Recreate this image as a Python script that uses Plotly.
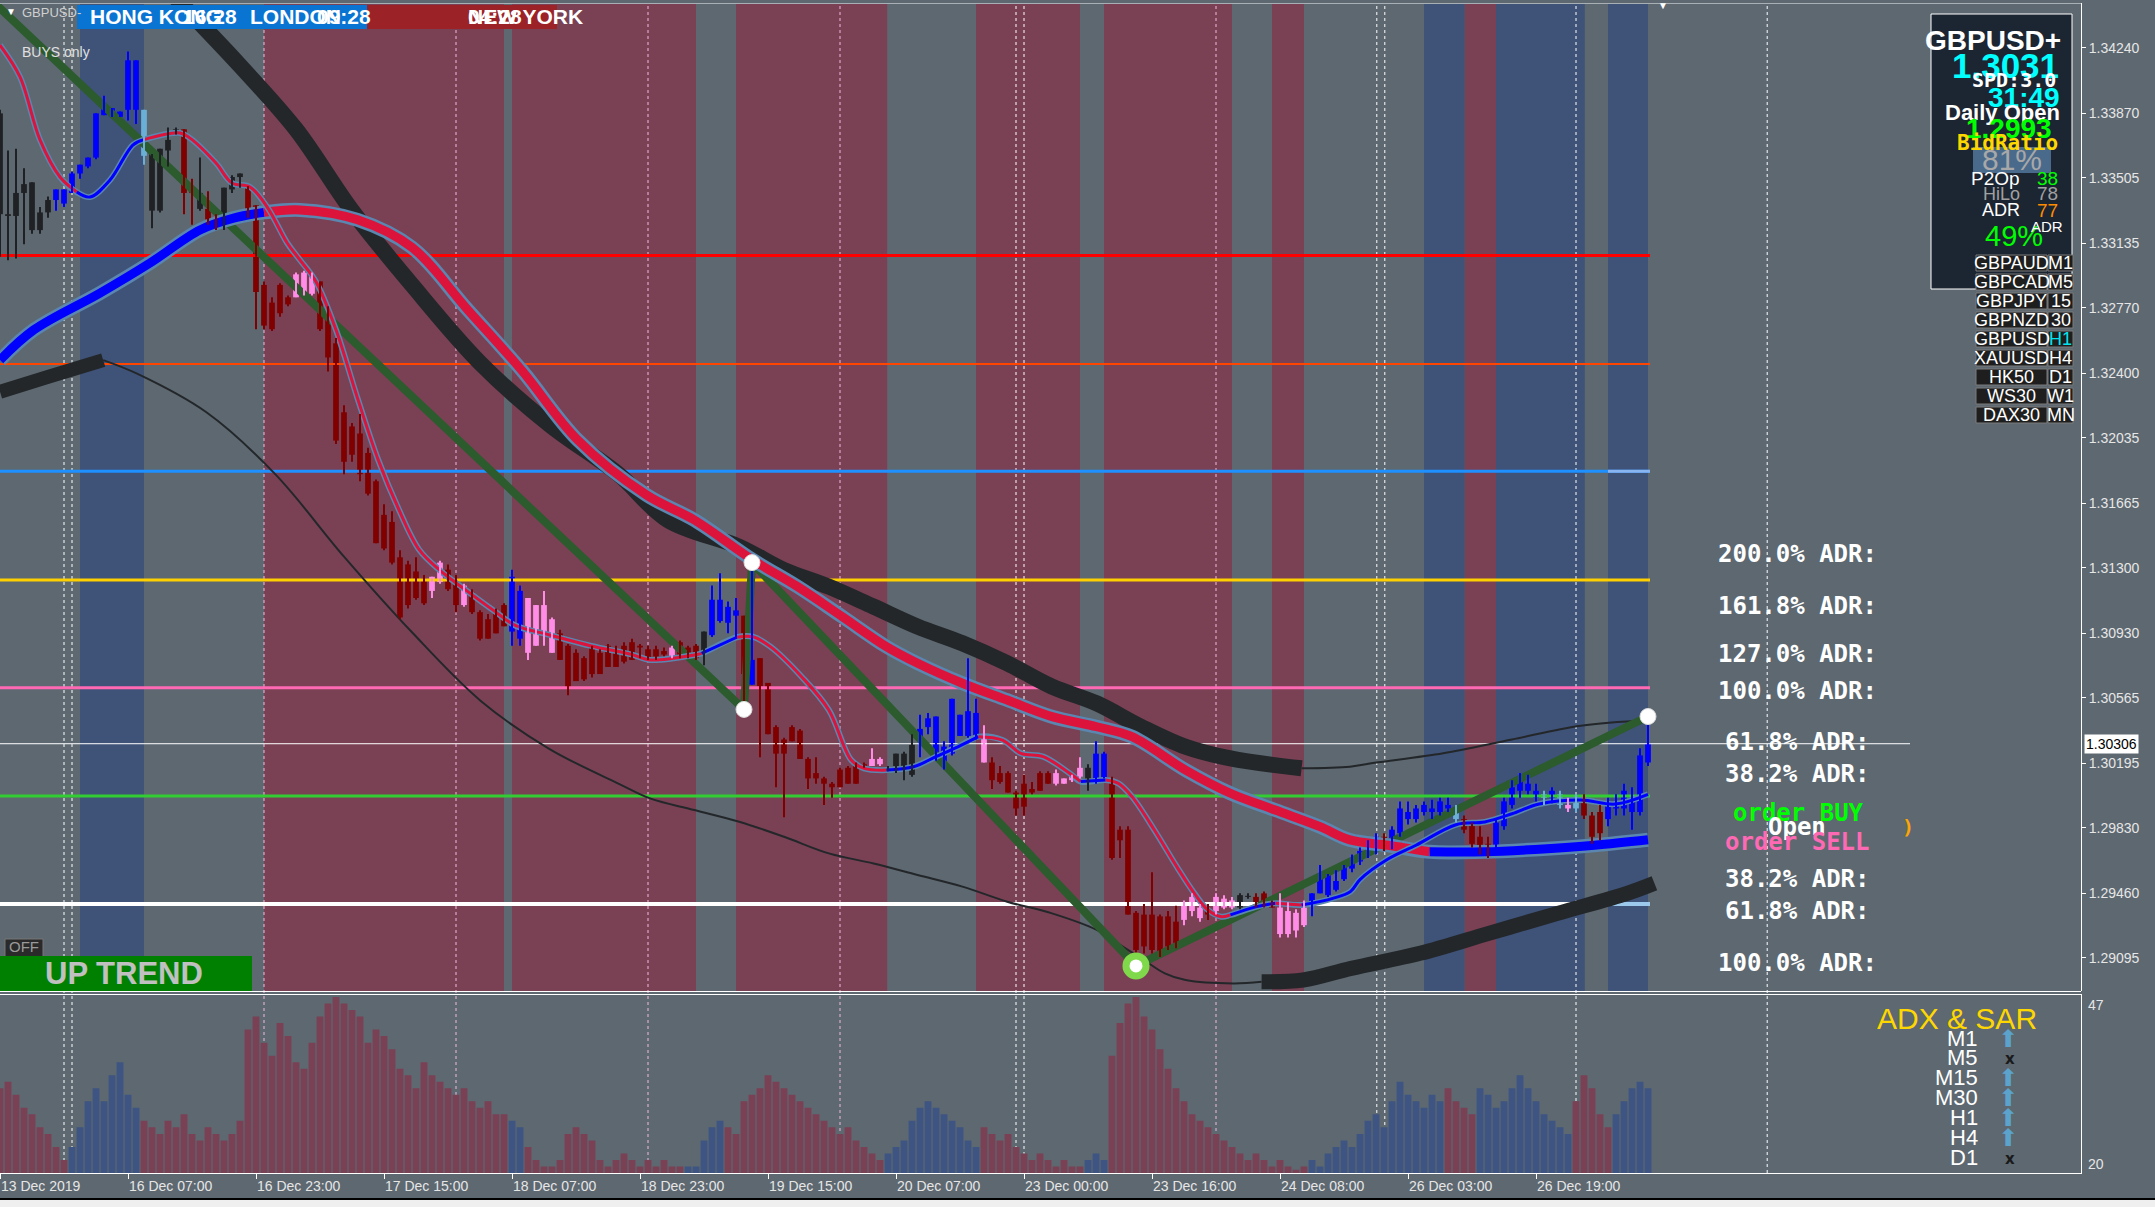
import plotly.graph_objects as go

# ---------------- data ----------------
BASE = 1.29000
PIP = 0.0001

time_ticks = [0, 16, 32, 48, 64, 80, 96, 112, 128, 144, 160, 176, 192]
time_labels = ["13 Dec 2019", "16 Dec 07:00", "16 Dec 23:00", "17 Dec 15:00", "18 Dec 07:00",
               "18 Dec 23:00", "19 Dec 15:00", "20 Dec 07:00", "23 Dec 00:00", "23 Dec 16:00",
               "24 Dec 08:00", "26 Dec 03:00", "26 Dec 19:00"]

price_ticks = [1.34240, 1.33870, 1.33505, 1.33135, 1.32770, 1.32400, 1.32035, 1.31665,
               1.31300, 1.30930, 1.30565, 1.30195, 1.29830, 1.29460, 1.29095]
current_price = 1.30306

# candle colour per bar: k=black, b=blue, r=dark red, p=pink, L=light blue
candle_color = ("kkkkkkk" + "bbbbbbbbbbb" + "L" + "kkkk" + "rr" + "k" + "rr" + "kkk" + "rrrrrr" + "ppp"
                + "rrrrrrrrrrrrrr" + "pp" + "rr" + "p" + "rrrrr" + "bb" + "pppp" + "rrrrrrrrrrrrrr" + "p"
                + "rrr" + "k" + "bbbb" + "r" + "b" + "rrrrrrrrrrrrrr" + "pp" + "kkkk" + "bbbbbbbb" + "p"
                + "rrrrrrrr" + "pppp" + "k" + "bb" + "rrrrrrrrr" + "ppp" + "r" + "ppp" + "kk" + "rrr"
                + "pppp" + "bbbbbbbbb" + "r" + "bbbbbbbb" + "L" + "rrrr" + "bbbbbb" + "L" + "b" + "L"
                + "p" + "L" + "rrr" + "bbbbbb")

# prices in pips above 1.29000
open_p = [487, 430, 429, 442, 448, 421, 431, 438, 436, 442,
          453, 457, 462, 486, 485, 485, 489, 489, 489, 464,
          432, 466, 476, 478, 443, 442, 433, 428, 430, 444,
          451, 446, 435, 390, 380, 374, 383, 383, 386, 396,
          392, 376, 357, 318, 294, 306, 295, 279, 260, 256,
          236, 209, 228, 224, 217, 222, 229, 224, 209, 216,
          205, 201, 193, 209, 194, 190, 213, 186, 193, 201,
          193, 186, 182, 179, 170, 182, 186, 184, 186, 188,
          185, 184, 184, 183, 180, 188, 185, 186, 183, 192,
          200, 208, 203, 203, 164, 179, 165, 140, 133, 140,
          138, 122, 114, 111, 108, 116, 117, 119, 119, 118,
          122, 117, 118, 125, 113, 134, 140, 121, 120, 125,
          135, 135, 134, 134, 120, 114, 114, 103, 108, 105,
          114, 114, 108, 108, 110, 112, 117, 110, 111, 109,
          82, 82, 35, 34, 34, 33, 33, 30, 31, 36,
          38, 36, 36, 38, 38, 38, 44, 44, 46, 41,
          38, 36, 35, 28, 40, 46, 45, 48, 54, 60,
          64, 68, 70, 78, 72, 80, 92, 88, 92, 94,
          92, 96, 92, 88, 84, 78, 74, 72, 84, 96,
          104, 108, 104, 100, 100, 102, 96, 94, 100, 90,
          80, 88, 94, 94, 100, 92, 120]
high_p = [489, 466, 467, 456, 448, 434, 440, 444, 444, 454,
          458, 462, 487, 497, 490, 488, 522, 517, 489, 464,
          467, 479, 479, 478, 450, 462, 443, 430, 445, 452,
          453, 446, 435, 392, 383, 391, 384, 397, 398, 397,
          392, 378, 360, 322, 312, 317, 298, 280, 266, 262,
          240, 234, 236, 226, 225, 234, 232, 226, 221, 218,
          206, 204, 207, 210, 229, 220, 213, 209, 217, 202,
          195, 187, 184, 180, 186, 184, 187, 186, 188, 190,
          187, 186, 186, 185, 186, 189, 186, 187, 194, 220,
          227, 211, 213, 203, 233, 179, 165, 141, 134, 141,
          139, 123, 123, 112, 109, 117, 118, 120, 120, 128,
          123, 118, 125, 126, 136, 147, 148, 146, 132, 156,
          147, 179, 156, 141, 123, 118, 115, 104, 113, 109,
          115, 115, 116, 111, 113, 123, 119, 132, 126, 112,
          84, 84, 36, 40, 58, 34, 36, 39, 42, 46,
          40, 40, 46, 45, 44, 46, 46, 46, 47, 42,
          46, 41, 37, 42, 46, 62, 57, 59, 62, 68,
          72, 76, 80, 80, 84, 98, 98, 96, 98, 99,
          100, 100, 96, 90, 86, 84, 78, 88, 100, 110,
          114, 113, 108, 104, 106, 104, 100, 102, 102, 92,
          96, 100, 102, 108, 106, 128, 146]
low_p = [406, 404, 405, 413, 419, 419, 428, 432, 434, 442,
         450, 456, 461, 486, 485, 485, 483, 481, 458, 422,
         431, 457, 475, 430, 424, 432, 424, 421, 421, 442,
         445, 428, 365, 365, 364, 372, 378, 383, 384, 384,
         364, 341, 300, 283, 290, 279, 271, 244, 240, 232,
         201, 207, 212, 209, 213, 221, 217, 205, 208, 204,
         189, 190, 193, 197, 186, 186, 178, 186, 186, 182,
         178, 158, 166, 166, 168, 170, 174, 174, 176, 178,
         179, 178, 178, 180, 179, 179, 179, 178, 175, 191,
         199, 193, 190, 150, 164, 123, 136, 106, 89, 132,
         122, 105, 108, 96, 100, 106, 108, 108, 117, 118,
         118, 115, 114, 110, 112, 123, 136, 121, 116, 124,
         135, 134, 133, 120, 105, 108, 103, 90, 90, 102,
         104, 108, 107, 108, 109, 111, 104, 108, 111, 65,
         66, 34, 5, 12, 12, 10, 14, 15, 28, 33,
         30, 31, 34, 37, 37, 37, 43, 38, 38, 38,
         21, 21, 21, 27, 33, 46, 44, 47, 53, 58,
         62, 66, 68, 70, 71, 78, 85, 86, 90, 88,
         90, 92, 86, 80, 72, 68, 66, 70, 82, 94,
         100, 102, 98, 96, 97, 94, 92, 92, 88, 74,
         76, 84, 90, 90, 82, 90, 118]
close_p = [430, 429, 442, 447, 421, 431, 438, 444, 444, 453,
           458, 462, 487, 490, 490, 488, 517, 517, 463, 432,
           467, 472, 478, 442, 442, 433, 427, 426, 445, 451,
           453, 429, 386, 367, 365, 390, 379, 396, 397, 385,
           365, 349, 302, 290, 310, 283, 272, 244, 241, 233,
           202, 232, 213, 210, 225, 233, 218, 209, 220, 205,
           190, 190, 205, 197, 225, 217, 182, 209, 209, 182,
           178, 162, 166, 167, 186, 170, 174, 174, 177, 178,
           186, 178, 180, 181, 185, 180, 180, 179, 194, 212,
           212, 199, 206, 170, 178, 163, 136, 125, 125, 132,
           122, 111, 111, 108, 106, 106, 108, 108, 118, 122,
           119, 116, 125, 117, 130, 139, 145, 146, 129, 156,
           147, 149, 148, 120, 110, 109, 103, 94, 95, 103,
           104, 108, 114, 111, 113, 117, 111, 125, 125, 66,
           76, 34, 14, 16, 14, 13, 16, 18, 40, 44,
           32, 34, 44, 43, 42, 45, 44, 39, 39, 38,
           23, 23, 25, 38, 46, 57, 57, 53, 62, 66,
           70, 72, 78, 72, 82, 94, 88, 94, 96, 92,
           98, 94, 88, 82, 74, 70, 72, 86, 98, 106,
           110, 104, 100, 102, 104, 96, 94, 100, 90, 78,
           92, 98, 96, 104, 92, 124, 131]

# session background rectangles (bar units)
band_start = [10, 33, 64, 92, 122, 138, 159, 178, 183.1, 187, 201]
band_end = [18, 63, 87, 110.9, 135, 154, 163, 183.1, 187, 198.1, 206]
band_kind = "bmmmmmmbmbb"

# horizontal levels
level_price = [1.33066, 1.32453, 1.31846, 1.31232, 1.30623, 1.30011, 1.29400]
level_color = ["#FF0000", "#FF4500", "#1E90FF", "#FFD000", "#FF69B4", "#32CD32", "#FFFFFF"]
level_width = [3, 2, 3, 3, 3, 3, 4]

# day separators (bar units)
sep_j = [8, 9, 33, 57, 81, 105, 127, 128, 152, 172.1, 173.1, 197, 220.9]
sep_col = ["w", "w", "p", "p", "p", "p", "w", "w", "p", "w", "w", "w", "w"]

# zigzag
zz_j = [-2, 93, 94, 142, 206]
zz_p = [555, 150, 233, 5, 146]

# fast MA
fast_j = [0, 2.5, 5, 7.5, 9.6, 11.25, 13.75, 16.6, 17.9, 22.5, 23.75, 27, 29, 31.25, 33.4, 35.9, 37.5,
          39.5, 42, 44.7, 47.3, 49.8, 52.4, 55, 58.4, 61.9, 64.4, 68.7, 73.9, 79, 81.25, 86.8, 87.7,
          92.1, 94.1, 96.3, 100.2, 103.6, 106.4, 108, 110.8, 114.2, 117, 119.8, 122.3, 125.3, 127.6,
          130.4, 133.7, 135.1, 138.2, 139.8, 141.5, 144.3, 147.1, 149.3, 151, 152.7, 153.8, 157.1,
          159.4, 162.7, 166.6, 168.8, 170, 173.5, 177, 182, 185.6, 189, 192.4, 197.6, 201.9, 206]
fast_p = [525.6, 507.6, 472, 451, 442.5, 439.7, 449.3, 469.1, 472, 475.9, 473, 458.9, 447.6, 445.4, 434,
          413.7, 404.1, 391.8, 364.6, 325.8, 290.8, 263.6, 240.3, 228.6, 216.9, 205.3, 197.5, 192.1,
          185.9, 181, 178, 180.8, 181.7, 190.8, 191.1, 185.5, 168.5, 149.7, 121.4, 116.7, 115.7, 117.6,
          123.3, 129, 134.6, 132.7, 125.2, 123.3, 113.9, 109.2, 110.1, 108.2, 100.7, 81.8, 61.1, 46,
          36.6, 32.8, 33.8, 38.5, 40.4, 39.4, 43.2, 47, 53.8, 65.4, 73.2, 84.8, 86.4, 91, 96.5, 98.8,
          96.5, 102]
fast_col = ("rrrr" + "bbbb" + "r" * 24 + "b" + "r" * 7 + "bbbb" + "r" * 5 + "b" + "r" * 8 + "bb" + "r"
            + "b" * 13)

# slow MA
slow_j = [0, 4.2, 12.5, 18.75, 25, 29.2, 33, 37.5, 44.7, 51.5, 58.4, 65.3, 72.2, 80.8, 86.8, 94.1, 99.7,
          105.3, 110.8, 114.7, 120.3, 125.9, 131.5, 137.1, 141.5, 148.2, 153.8, 159.4, 165, 168.75, 173.5,
          178.7, 185.6, 192.4, 199.3, 206]
slow_p = [347.5, 364.5, 385.4, 402.4, 421.1, 427.8, 431, 432.4, 426.8, 411.2, 376.3, 341.3, 302.4, 271.3,
          257.1, 234.5, 219.4, 202.4, 185.5, 176.1, 164.8, 155.3, 145.9, 140.2, 134.6, 115.7, 102.6, 93.1,
          83.7, 76.2, 73.2, 69.5, 69.5, 71, 73.2, 76.3]
slow_col = "bbbbbb" + "r" * 25 + "b" * 5

# upper envelope (thick part, then thin part)
ub_j = [20, 22, 25, 30, 37, 44, 51.5, 60, 68.7, 77.3, 83.5, 92.4, 98, 103.6, 109.2, 114.7, 120.3, 125.9,
        131.5, 137.1, 142.6, 148.2, 153.8, 162.7]
ub_p = [562, 552, 538, 514, 478, 432, 390, 346, 311, 283, 257, 242, 228.8, 219.4, 208.1, 196.8, 187.4,
        176.1, 162.9, 153.4, 140.3, 128.9, 122.3, 116.7]
ubt_j = [162.7, 168.75, 171.8, 180.4, 189, 197.6, 206]
ubt_p = [116.7, 117.6, 119.8, 125.2, 133, 140.8, 143.9]

# lower envelope
lb1_j = [0, 6, 12.9]
lb1_p = [329.6, 338, 347.5]
lbt_j = [12.9, 17.2, 25.8, 34.4, 43, 51.5, 60.1, 68.7, 77.3, 81.25, 86.8, 92.4, 98, 103.6, 109.2, 114.7,
         120.3, 125.9, 131.5, 137.1, 138.7, 143, 145.6, 148.2, 154.2, 157.7]
lbt_p = [347.5, 339.7, 318, 283, 236.4, 193.6, 154.8, 127.6, 108.1, 99.7, 93.1, 86.5, 78, 68.6, 62.9, 56.4,
         49.8, 41.3, 34.7, 25.3, 20.6, 8.3, 0.8, -3, -4.9, -4]
lb2_j = [157.7, 162.9, 168.9, 177.5, 186.1, 194.7, 203.4, 206.8]
lb2_p = [-4, -3, 3.6, 12.1, 23.4, 34.7, 46, 51.7]

# lower indicator histogram
adx = [33, 34, 32, 30, 29, 27, 26, 24, 22, 24, 27, 31, 33, 31, 35, 37, 32, 30,
       28, 27, 26, 28, 27, 29, 26, 25, 27, 26, 25, 26, 28,
       42, 44, 40, 38, 43, 41, 37, 36, 40, 44, 46, 47, 46, 45, 44,
       40, 42, 41, 39, 36, 35, 33, 37, 35, 34, 33, 32, 33, 31, 30, 31, 29,
       29, 28, 27, 24, 22, 21, 21, 22,
       26, 27, 26, 25, 22, 21, 22, 23, 22, 21, 22, 21, 22, 21, 21,
       21, 21, 25, 27, 28, 27, 26,
       31, 32, 33, 35, 34, 33, 32, 31, 30, 29, 28, 27, 26, 27, 25, 24, 23, 22,
       23, 24, 25, 28, 30, 31, 30, 29, 28, 27, 25, 24,
       27, 26, 25, 26, 24, 23, 22, 23, 22, 21, 22, 21, 21,
       22, 23, 22,
       38, 43, 46, 47, 44, 42, 39, 36, 33, 31, 29, 28,
       27, 26, 25, 24, 23, 22, 23, 22, 21, 22, 21, 20.5, 21, 22, 21,
       23, 24, 25, 24, 26, 28, 29, 27, 31, 34, 32, 31, 30, 32, 31,
       33, 31, 30, 29, 33, 32, 30, 31, 33, 35,
       33, 31, 29, 28, 27, 26, 31, 35, 33, 29, 27, 29, 31, 33, 34, 33]
adx_col = ("m" * 9 + "b" * 9 + "m" * 46 + "b" * 2 + "m" * 20 + "b" * 5 + "m" * 20 + "b" * 12 + "m" * 13
           + "b" * 3 + "m" * 25 + "b" * 17 + "m" * 4 + "b" * 12 + "m" * 5 + "b" * 5)

# ---------------- geometry helpers ----------------
W, H = 2155, 1207
PL, PR = 0, 2081
PT, PB = 3, 1173


def fx(px):
    return (px - PL) / (PR - PL)


def fy(py):
    return (PB - py) / (PB - PT)


def pr(p):
    return BASE + p * PIP


BG = "#5D6871"
MAROON = "#7A4054"
BLUEBAND = "#3F5278"
CCOL = {"k": "#1F2124", "b": "#0000FF", "r": "#800000", "p": "#FF8CE6", "L": "#6AAFD6"}

fig = go.Figure()

# ---- histogram panel ----
n_adx = min(len(adx), len(adx_col))
for key, colr in (("m", MAROON), ("b", "#3E5482")):
    xs = [j for j in range(n_adx) if adx_col[j] == key]
    ys = [adx[j] for j in xs]
    fig.add_trace(go.Bar(x=xs, y=ys, width=0.85, marker=dict(color=colr, line=dict(width=0)),
                         yaxis="y2", xaxis="x"))

# ---- levels ----
for p, c, w in zip(level_price, level_color, level_width):
    fig.add_trace(go.Scatter(x=[0, 206.25], y=[p, p], mode="lines", line=dict(color=c, width=w)))
fig.add_trace(go.Scatter(x=[201, 206.25], y=[level_price[-1]] * 2, mode="lines",
                         line=dict(color="#9CC8EC", width=4)))
fig.add_trace(go.Scatter(x=[201, 206.25], y=[level_price[2]] * 2, mode="lines",
                         line=dict(color="#8AB4F0", width=3)))
fig.add_trace(go.Scatter(x=[0, 238.75], y=[current_price] * 2, mode="lines",
                         line=dict(color="#FFFFFF", width=1)))

# ---- envelopes ----
fig.add_trace(go.Scatter(x=ub_j, y=[pr(v) for v in ub_p], mode="lines", line=dict(color="#23272A", width=16, shape="spline")))
fig.add_trace(go.Scatter(x=ubt_j, y=[pr(v) for v in ubt_p], mode="lines", line=dict(color="#23272A", width=2, shape="spline")))
fig.add_trace(go.Scatter(x=lb1_j, y=[pr(v) for v in lb1_p], mode="lines", line=dict(color="#23272A", width=14, shape="spline")))
fig.add_trace(go.Scatter(x=lbt_j, y=[pr(v) for v in lbt_p], mode="lines", line=dict(color="#23272A", width=2, shape="spline")))
fig.add_trace(go.Scatter(x=lb2_j, y=[pr(v) for v in lb2_p], mode="lines", line=dict(color="#23272A", width=15, shape="spline")))

# ---- zigzag ----
fig.add_trace(go.Scatter(x=zz_j, y=[pr(v) for v in zz_p], mode="lines", line=dict(color="#2C5B2E", width=8)))


def segments(js, ps, cols):
    out = []
    start = 0
    n = min(len(js), len(ps))
    for i in range(1, n):
        if i == n - 1 or cols[i] != cols[start]:
            out.append((cols[start], js[start:i + 1], ps[start:i + 1]))
            start = i
    return out


MACOL = {"r": "#DC143C", "b": "#0000FF"}
# slow MA
fig.add_trace(go.Scatter(x=slow_j, y=[pr(v) for v in slow_p], mode="lines",
                         line=dict(color="#5A86B0", width=14, shape="spline")))
for c, xs, ys in segments(slow_j, slow_p, slow_col):
    fig.add_trace(go.Scatter(x=xs, y=[pr(v) for v in ys], mode="lines",
                             line=dict(color=MACOL[c], width=9, shape="spline")))
# fast MA
fig.add_trace(go.Scatter(x=fast_j, y=[pr(v) for v in fast_p], mode="lines",
                         line=dict(color="#5A86B0", width=6, shape="spline")))
for c, xs, ys in segments(fast_j, fast_p, fast_col):
    fig.add_trace(go.Scatter(x=xs, y=[pr(v) for v in ys], mode="lines",
                             line=dict(color=MACOL[c], width=3, shape="spline")))

# ---- candles ----
n = min(len(candle_color), len(open_p), len(high_p), len(low_p), len(close_p))
for key, colr in CCOL.items():
    idx = [j for j in range(n) if candle_color[j] == key]
    if not idx:
        continue
    wx, wy = [], []
    for j in idx:
        wx += [j, j, None]
        wy += [pr(low_p[j]), pr(high_p[j]), None]
    fig.add_trace(go.Scatter(x=wx, y=wy, mode="lines", line=dict(color=colr, width=2), connectgaps=False))
    bases = [pr(min(open_p[j], close_p[j])) for j in idx]
    hts = [max(abs(close_p[j] - open_p[j]), 0.6) * PIP for j in idx]
    fig.add_trace(go.Bar(x=idx, y=hts, base=bases, width=0.72, marker=dict(color=colr, line=dict(width=0)),
                         xaxis="x", yaxis="y"))

# ---- zigzag dots ----
fig.add_trace(go.Scatter(x=[zz_j[1], zz_j[2], zz_j[4]], y=[pr(zz_p[1]), pr(zz_p[2]), pr(zz_p[4])],
                         mode="markers", marker=dict(size=16, color="#FFFFFF", line=dict(color="#DDDDDD", width=1))))
fig.add_trace(go.Scatter(x=[zz_j[3]], y=[pr(zz_p[3])], mode="markers",
                         marker=dict(size=20, color="#FFFFFF", line=dict(color="#7FD94A", width=7))))

# ---------------- shapes ----------------
shapes = []
for a, b, k in zip(band_start, band_end, band_kind):
    shapes.append(dict(type="rect", xref="x", yref="y domain", x0=a, x1=b, y0=0, y1=1,
                       fillcolor=MAROON if k == "m" else BLUEBAND, line=dict(width=0), layer="below"))
for j, c in zip(sep_j, sep_col):
    shapes.append(dict(type="line", xref="x", yref="paper", x0=j, x1=j, y0=0, y1=1,
                       line=dict(color="#F2B8E0" if c == "p" else "#FFFFFF", width=1, dash="3px,3px"),
                       layer="below"))


def R(x0, y0, x1, y1, fill, lc=None, lw=0, layer="above"):
    shapes.append(dict(type="rect", xref="paper", yref="paper", x0=fx(x0), x1=fx(x1), y0=fy(y1), y1=fy(y0),
                       fillcolor=fill, line=dict(color=lc or fill, width=lw), layer=layer))


def Lh(x0, x1, y, color, w=1):
    shapes.append(dict(type="line", xref="paper", yref="paper", x0=fx(x0), x1=fx(x1), y0=fy(y), y1=fy(y),
                       line=dict(color=color, width=w)))


# borders
Lh(0, 2081, 3.5, "#A8B0B6")
Lh(0, 2081, 991.5, "#FFFFFF")
Lh(0, 2081, 994.5, "#FFFFFF")
# session header
R(77, 5, 367, 29, "#0A74D2")
R(367, 5, 557, 29, "#9B2226")
# info panel
R(1931, 14, 2072, 289, "#1C2532", "#FFFFFF", 1)
R(1973, 147, 2051, 173, "#4A6A8C")
# symbol buttons
left_syms = ["GBPAUD", "GBPCAD", "GBPJPY", "GBPNZD", "GBPUSD", "XAUUSD", "HK50", "WS30", "DAX30"]
right_tfs = ["M1", "M5", "15", "30", "H1", "H4", "D1", "W1", "MN"]
for k in range(9):
    yc = 263 + 19 * k
    R(1976, yc - 8, 2047, yc + 8, "#1E1E1E", "#7A7A7A", 1)
    R(2048, yc - 8, 2073, yc + 8, "#1E1E1E", "#7A7A7A", 1)
# OFF + UP TREND
R(5, 939, 43, 957, "#2A2A2A", "#777777", 1)
R(0, 956, 252, 991, "#008000")
# bottom window strip
R(0, 1199, 2155, 1207, "#EFEFEF")
Lh(0, 2155, 1199, "#000000", 2)

# ---------------- annotations ----------------
anns = []


def T(x, y, text, size, color, family="Liberation Sans", xa="left", ya="middle", bold=False, bg=None):
    d = dict(x=fx(x), y=fy(y), xref="paper", yref="paper", text=("<b>%s</b>" % text) if bold else text,
             showarrow=False, xanchor=xa, yanchor=ya, font=dict(size=size, color=color, family=family))
    if bg:
        d["bgcolor"] = bg
    anns.append(d)


MONO = "DejaVu Sans Mono"
T(4, 12, "▼", 10, "#FFFFFF")
T(20, 13, "GBPUSD-", 13, "#D0D0D0")
T(20, 52, "BUYS only", 14, "#E0E0E0")
T(1663, 6, "▼", 10, "#FFFFFF", xa="center")
T(88, 17, "HONG KONG", 21, "#FFFFFF", bold=True)
T(181, 17, "16:28", 21, "#FFFFFF", bold=True)
T(248, 17, "LONDON", 21, "#FFFFFF", bold=True)
T(315, 17, "09:28", 21, "#FFFFFF", bold=True)
T(466, 17, "NEW YORK", 21, "#FFFFFF", bold=True)
T(466, 17, "04:28", 21, "#FFFFFF", bold=True)

T(24, 946, "OFF", 15, "#9A9A9A", xa="center")
T(124, 974, "UP TREND", 31, "#C0C0C0", bold=True, xa="center")

# info panel
T(2063, 41, "GBPUSD+", 28, "#FFFFFF", xa="right", bold=True)
T(2061, 65, "1.3031", 35, "#00FFFF", xa="right", bold=True)
T(2058, 80, "SPD:3.0", 20, "#FFFFFF", family=MONO, xa="right", bold=True)
T(2062, 97, "31:49", 28, "#00FFFF", xa="right", bold=True)
T(2062, 112, "Daily Open", 22, "#FFFFFF", xa="right", bold=True)
T(2054, 129, "1.2993", 28, "#00FF00", xa="right", bold=True)
T(2060, 143, "BidRatio", 21, "#FFD700", family=MONO, xa="right", bold=True)
T(2012, 160, "81%", 30, "#A8A8A8", xa="center")
T(2022, 178, "P2Op", 19, "#FFFFFF", xa="right")
T(2060, 178, "38", 19, "#00FF00", xa="right")
T(2022, 194, "HiLo", 18, "#A0A0A0", xa="right")
T(2060, 194, "78", 19, "#A0A0A0", xa="right")
T(2022, 210, "ADR", 18, "#FFFFFF", xa="right")
T(2060, 210, "77", 19, "#FF8C00", xa="right")
T(2014, 236, "49%", 29, "#00FF00", xa="center")
T(2047, 226, "ADR", 15, "#FFFFFF", xa="center")
for k in range(9):
    yc = 263 + 19 * k
    T(2011.5, yc, left_syms[k], 18, "#FFFFFF", xa="center")
    T(2060.5, yc, right_tfs[k], 18, "#00E5EE" if right_tfs[k] == "H1" else "#FFFFFF", xa="center")

# ADR ladder
for txt, y in (("200.0% ADR:", 554), ("161.8% ADR:", 606), ("127.0% ADR:", 654), ("100.0% ADR:", 691),
               ("61.8% ADR:", 742), ("38.2% ADR:", 774), ("38.2% ADR:", 879), ("61.8% ADR:", 911),
               ("100.0% ADR:", 963)):
    T(1797, y, txt, 24, "#FFFFFF", family=MONO, xa="center", bold=True)
T(1798, 813, "order BUY", 24, "#00FF00", family=MONO, xa="center", bold=True)
T(1797, 827, "Open", 24, "#FFFFFF", family=MONO, xa="center", bold=True)
T(1797, 842, "order SELL", 24, "#FF69B4", family=MONO, xa="center", bold=True)
T(1900, 827, ")", 20, "#FFA500", family=MONO, bold=True)

# indicator panel texts
T(1957, 1018, "ADX & SAR", 30, "#FFD700", xa="center")
tf_rows = [("M1", 1038, True), ("M5", 1057, False), ("M15", 1077, True), ("M30", 1097, True),
           ("H1", 1117, True), ("H4", 1137, True), ("D1", 1157, False)]
for name, y, up in tf_rows:
    T(1980, y, name, 22, "#FFFFFF", xa="right")
    if up:
        T(2008, y + 1, "⬆", 24, "#5BA3CC", family="DejaVu Sans", xa="center")
    else:
        T(2010, y + 2, "x", 15, "#1A1A1A", family="DejaVu Sans", xa="center", bold=True)
T(2086, 1005, "47", 14, "#E6E6E6")
T(2086, 1164, "20", 14, "#E6E6E6")

# current price tag
anns.append(dict(x=fx(2084), y=current_price, xref="paper", yref="y", text="1.30306", showarrow=False,
                 xanchor="left", yanchor="middle", bgcolor="#FFFFFF", borderpad=1,
                 font=dict(size=14, color="#000000", family="Liberation Sans")))

# ---------------- layout ----------------
AXF = dict(size=14, color="#E6E6E6", family="Liberation Sans")
fig.update_layout(
    width=W, height=H, autosize=False,
    margin=dict(l=PL, r=W - PR, t=PT, b=H - PB),
    paper_bgcolor=BG, plot_bgcolor=BG,
    showlegend=False, barmode="overlay", hovermode=False,
    xaxis=dict(range=[0, (PR - PL) / 8.0], anchor="y2", tickvals=time_ticks, ticktext=time_labels,
               ticks="outside", ticklen=5, tickcolor="#FFFFFF", ticklabelposition="outside right",
               showline=True, linecolor="#FFFFFF", linewidth=1, showgrid=False, zeroline=False,
               tickfont=AXF),
    yaxis=dict(domain=[fy(991), 1], range=[pr(-9.2), pr(549.4)], side="right", tickvals=price_ticks,
               ticktext=["%.5f" % v for v in price_ticks], ticks="outside", ticklen=4, tickcolor="#FFFFFF",
               showline=True, linecolor="#FFFFFF", linewidth=1, showgrid=False, zeroline=False,
               tickfont=AXF),
    yaxis2=dict(domain=[0, fy(994)], range=[20, 47.46], side="right", showticklabels=False,
                showline=True, linecolor="#FFFFFF", linewidth=1, showgrid=False, zeroline=False,
                ticks=""),
    shapes=shapes, annotations=anns,
)

fig.write_html("out.html", config={"displayModeBar": False, "staticPlot": True},
               post_script="document.body.style.margin='0px';document.body.style.padding='0px';")
